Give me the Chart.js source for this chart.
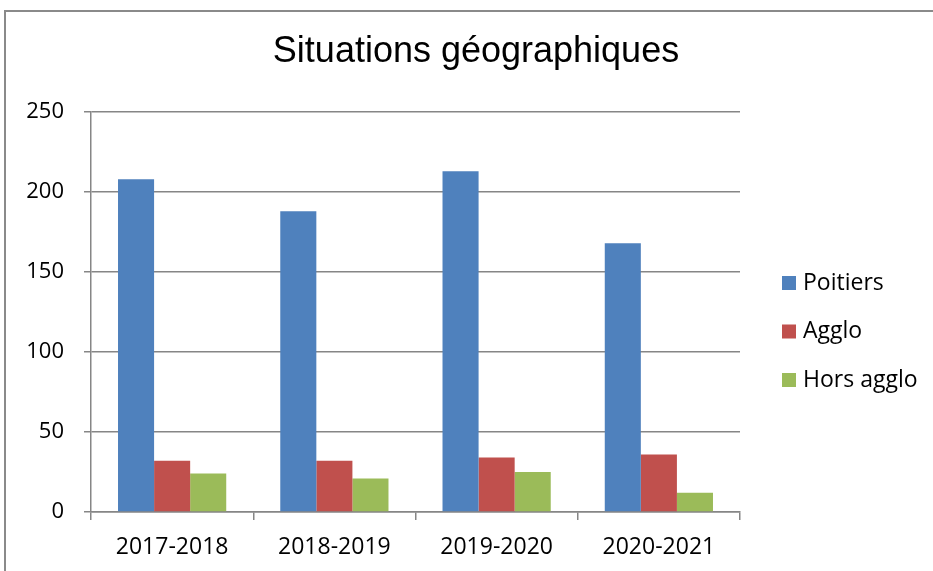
<!DOCTYPE html>
<html>
<head>
<meta charset="utf-8">
<script src="https://cdn.jsdelivr.net/npm/chart.js@4/dist/chart.umd.min.js"></script>
<style>
    html, body { margin: 0; padding: 0; background: #fff; }
    #frame { position: absolute; left: 4px; top: 10px; width: 960px; height: 600px; border: 2px solid #8a8a8a; }
    #wrap { position: absolute; left: 0; top: 0; width: 933px; height: 571px; }
</style>
</head>
<body>
<div id="frame"></div>
<div id="wrap"><canvas id="geo-chart"></canvas></div>
<script>
const seasons = ["2017-2018", "2018-2019", "2019-2020", "2020-2021"];
const poitiers = [208, 188, 213, 168];
const agglo = [32, 32, 34, 36];
const horsAgglo = [24, 21, 25, 12];
const yTicks = [0, 50, 100, 150, 200, 250];
const chartTitle = "Situations géographiques";

const gridGrey = "#868686";

// title and legend drawn by hand, placed like the original
const sideLegend = {
    id: "sideLegend",
    afterDraw(chart) {
        const ctx = chart.ctx;
        ctx.save();
        ctx.fillStyle = "#000";
        ctx.textAlign = "center";
        ctx.textBaseline = "middle";
        ctx.font = "36px 'Liberation Sans'";
        ctx.fillText(chartTitle, 476, 52);

        ctx.textAlign = "left";
        ctx.font = "23px 'Open Sans'";
        chart.data.datasets.forEach((ds, i) => {
            let y = 283 + i * 48.5;
            ctx.fillStyle = ds.backgroundColor;
            ctx.fillRect(782, y - 7, 14, 14);
            ctx.fillStyle = "#000";
            ctx.fillText(ds.label, 803, y);
        });
        ctx.restore();
    }
};

new Chart(document.getElementById("geo-chart").getContext("2d"), {
    type: "bar",
    data: {
        labels: seasons,
        datasets: [
            { label: "Poitiers", data: poitiers, backgroundColor: "#4F81BD" },
            { label: "Agglo", data: agglo, backgroundColor: "#C0504D" },
            { label: "Hors agglo", data: horsAgglo, backgroundColor: "#9BBB59" }
        ]
    },
    options: {
        responsive: true,
        maintainAspectRatio: false,
        animation: false,
        layout: { padding: { left: 0, right: 193, top: 112, bottom: 0 } },
        datasets: { bar: { categoryPercentage: 0.667, barPercentage: 1.0 } },
        plugins: {
            legend: { display: false },
            tooltip: { enabled: false },
            title: { display: false }
        },
        scales: {
            x: {
                afterFit: s => { s.height = 59; },
                grid: { offset: true, drawOnChartArea: false, drawTicks: true, tickLength: 8, color: gridGrey, lineWidth: 1.5 },
                border: { color: gridGrey, width: 1.5 },
                ticks: { color: "#000", padding: 14, font: { family: "'Open Sans'", size: 23 } }
            },
            y: {
                min: 0,
                max: 250,
                afterFit: s => { s.width = 91; },
                afterBuildTicks: s => { s.ticks = yTicks.map(v => ({ value: v })); },
                grid: { color: gridGrey, lineWidth: 1.5, tickLength: 7 },
                border: { color: gridGrey, width: 1.5 },
                ticks: { color: "#000", padding: 20, font: { family: "'Open Sans'", size: 22 } }
            }
        }
    },
    plugins: [sideLegend]
});
</script>
</body>
</html>
